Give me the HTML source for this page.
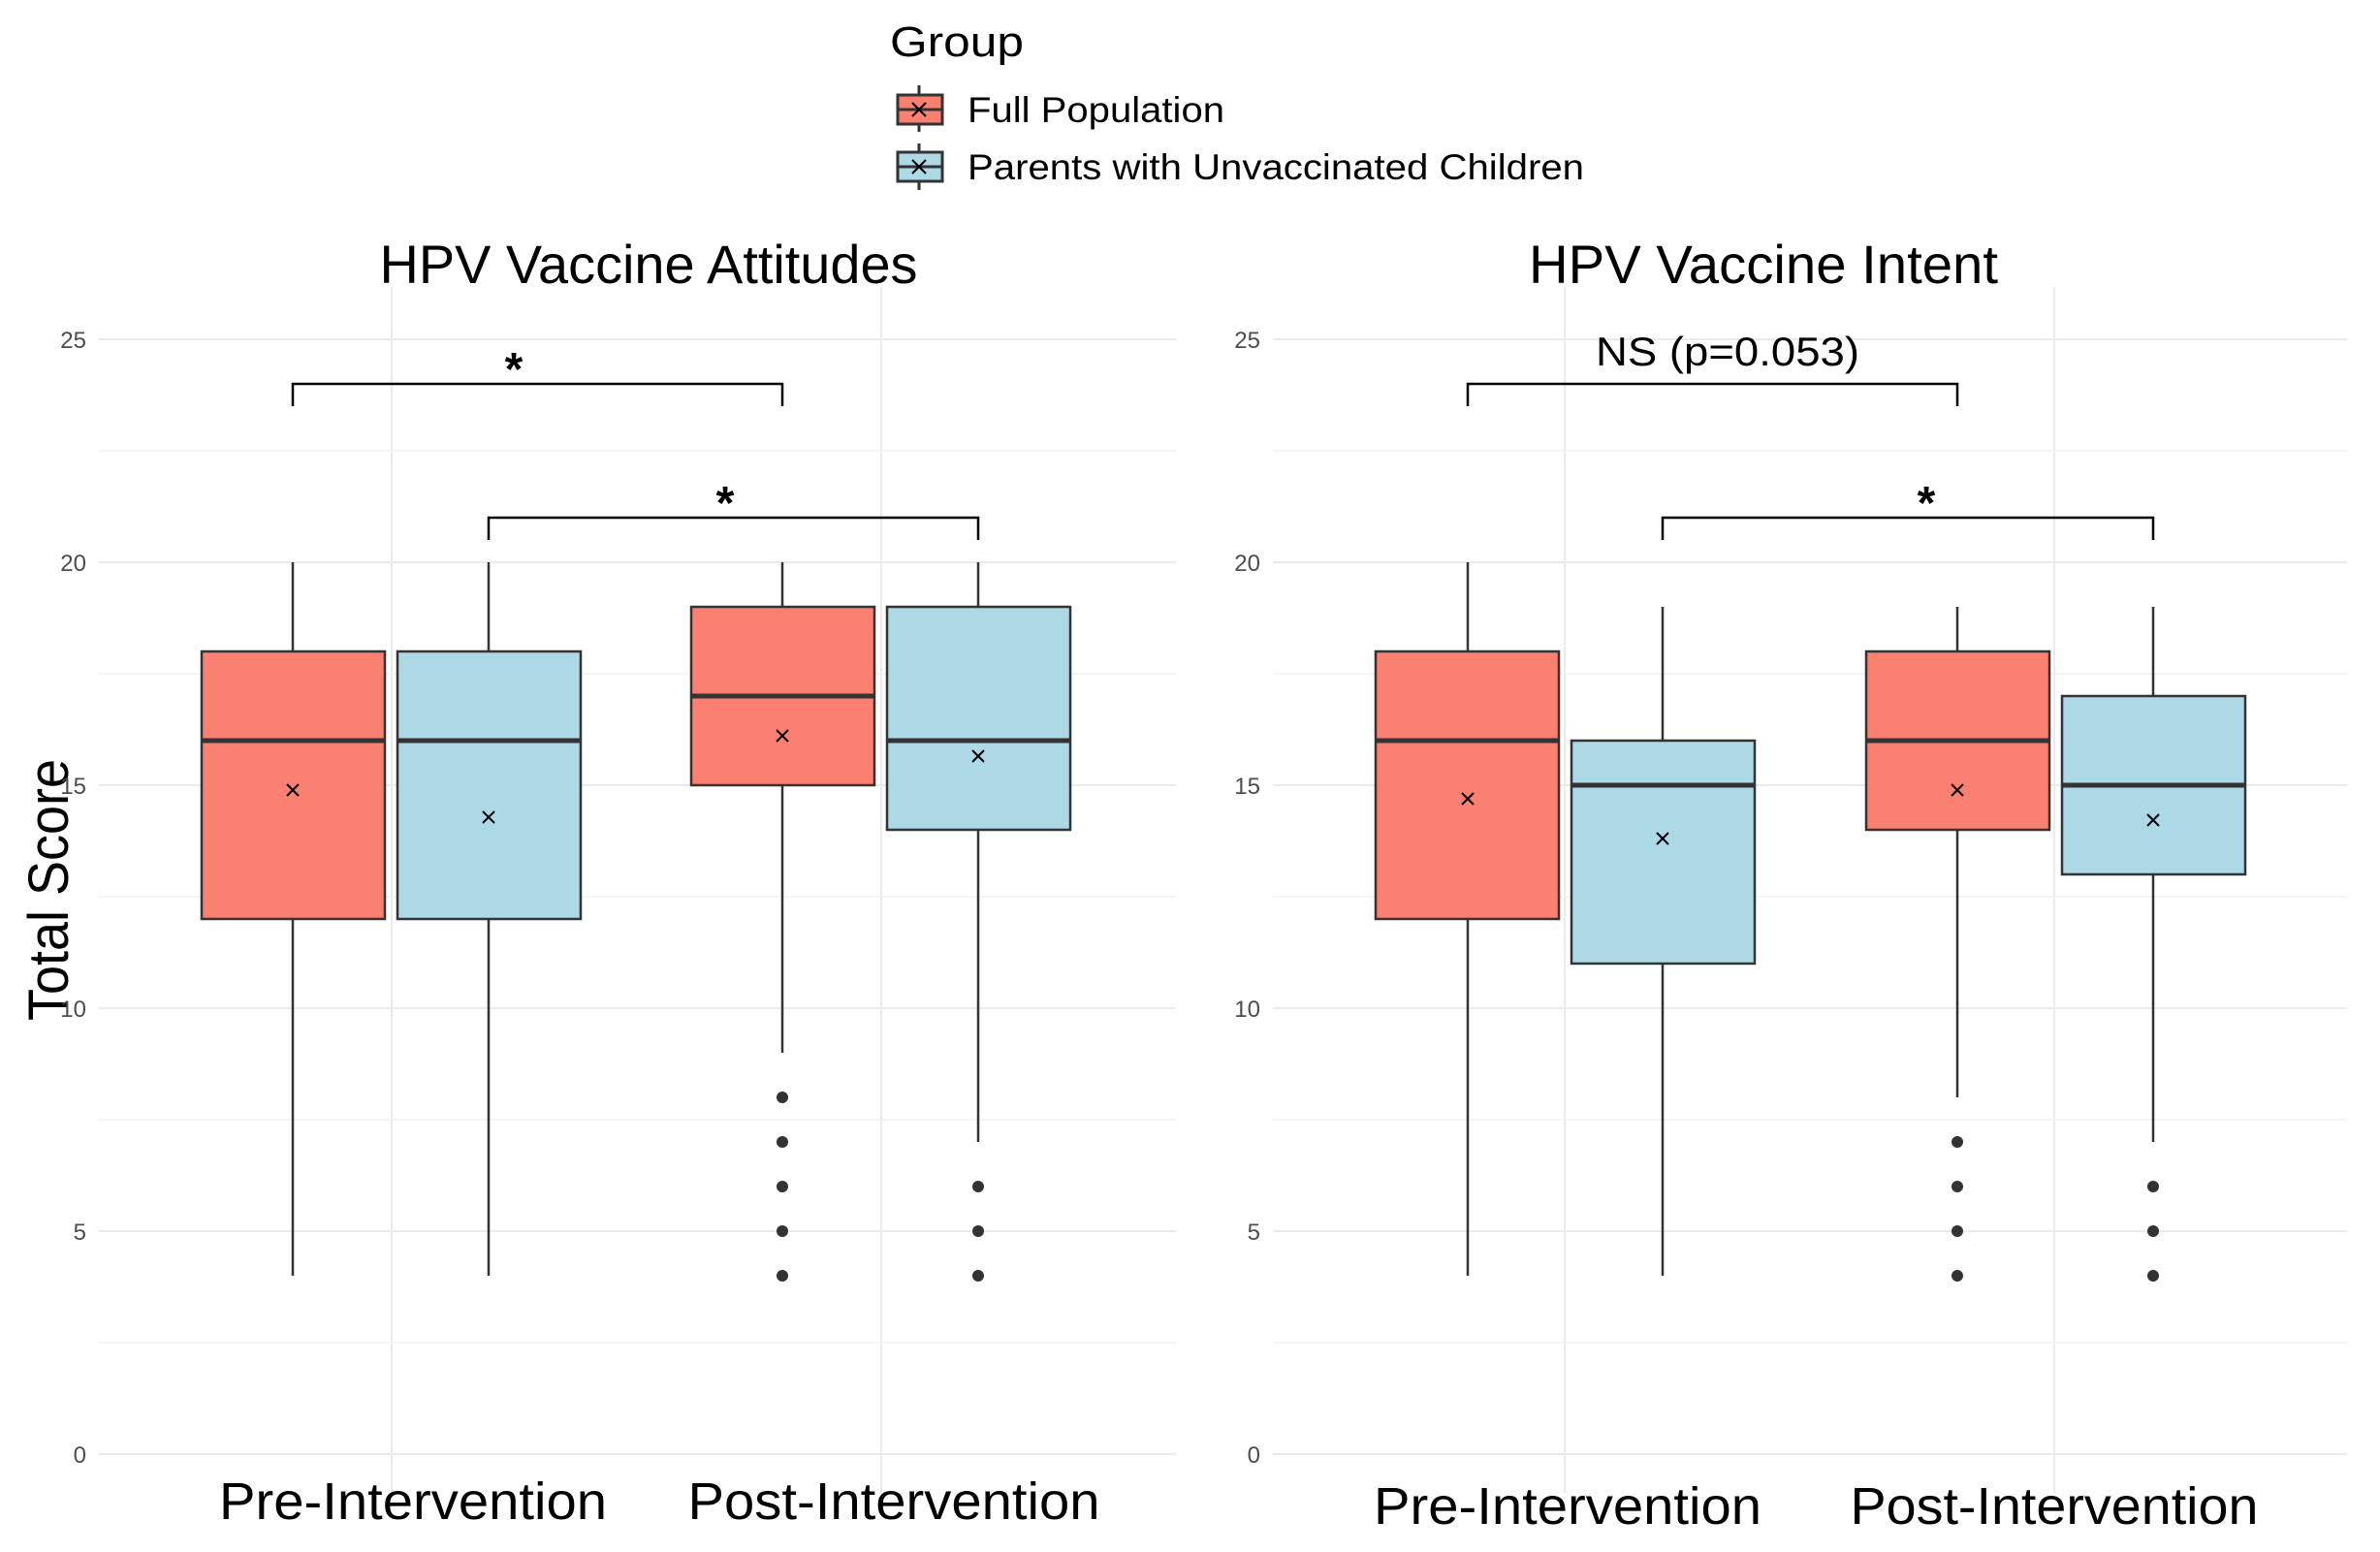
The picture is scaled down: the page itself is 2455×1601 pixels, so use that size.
<!DOCTYPE html>
<html><head><meta charset="utf-8"><style>
html,body{margin:0;padding:0;background:#fff;}
svg{display:block;}
text{font-family:"Liberation Sans",sans-serif;}
</style></head><body>
<svg width="2455" height="1601" viewBox="0 0 2455 1601" xmlns="http://www.w3.org/2000/svg">
<rect width="2455" height="1601" fill="#fff"/>
<!-- Legend -->
<text x="918" y="58" font-size="44" fill="#000" textLength="138" lengthAdjust="spacingAndGlyphs">Group</text>
<g stroke="#333" stroke-width="3">
<line x1="948" y1="88" x2="948" y2="136"/>
<rect x="926" y="98" width="46" height="30" fill="#FA8072"/>
<line x1="926" y1="113" x2="972" y2="113"/>
<line x1="941" y1="106" x2="955" y2="120" stroke="#000" stroke-width="2"/><line x1="955" y1="106" x2="941" y2="120" stroke="#000" stroke-width="2"/>
<line x1="948" y1="148" x2="948" y2="196"/>
<rect x="926" y="157" width="46" height="30" fill="#ADD8E6"/>
<line x1="926" y1="172" x2="972" y2="172"/>
<line x1="941" y1="165" x2="955" y2="179" stroke="#000" stroke-width="2"/><line x1="955" y1="165" x2="941" y2="179" stroke="#000" stroke-width="2"/>
</g>
<text x="998" y="126" font-size="37" fill="#000" textLength="265" lengthAdjust="spacingAndGlyphs">Full Population</text>
<text x="998" y="185" font-size="37" fill="#000" textLength="636" lengthAdjust="spacingAndGlyphs">Parents with Unvaccinated Children</text>

<!-- Titles -->
<text x="669" y="292" font-size="56" text-anchor="middle" textLength="555" lengthAdjust="spacingAndGlyphs">HPV Vaccine Attitudes</text>
<text x="1819" y="292" font-size="56" text-anchor="middle" textLength="484" lengthAdjust="spacingAndGlyphs">HPV Vaccine Intent</text>

<!-- Y label -->
<text transform="translate(70,918) rotate(-90)" font-size="58" text-anchor="middle" textLength="270" lengthAdjust="spacingAndGlyphs">Total Score</text>

<!-- Grids -->
<g stroke="#ebebeb" stroke-width="2">
<line x1="102" y1="1500" x2="1213" y2="1500"/><line x1="102" y1="1270" x2="1213" y2="1270"/><line x1="102" y1="1040" x2="1213" y2="1040"/><line x1="102" y1="810" x2="1213" y2="810"/><line x1="102" y1="580" x2="1213" y2="580"/><line x1="102" y1="350" x2="1213" y2="350"/>
<line x1="1313" y1="1500" x2="2421" y2="1500"/><line x1="1313" y1="1270" x2="2421" y2="1270"/><line x1="1313" y1="1040" x2="2421" y2="1040"/><line x1="1313" y1="810" x2="2421" y2="810"/><line x1="1313" y1="580" x2="2421" y2="580"/><line x1="1313" y1="350" x2="2421" y2="350"/>
<line x1="404" y1="296" x2="404" y2="1540"/><line x1="909" y1="296" x2="909" y2="1540"/>
<line x1="1614" y1="296" x2="1614" y2="1540"/><line x1="2119" y1="296" x2="2119" y2="1540"/>
</g>
<g stroke="#f2f2f2" stroke-width="1.5">
<line x1="102" y1="1385" x2="1213" y2="1385"/><line x1="102" y1="1155" x2="1213" y2="1155"/><line x1="102" y1="925" x2="1213" y2="925"/><line x1="102" y1="695" x2="1213" y2="695"/><line x1="102" y1="465" x2="1213" y2="465"/>
<line x1="1313" y1="1385" x2="2421" y2="1385"/><line x1="1313" y1="1155" x2="2421" y2="1155"/><line x1="1313" y1="925" x2="2421" y2="925"/><line x1="1313" y1="695" x2="2421" y2="695"/><line x1="1313" y1="465" x2="2421" y2="465"/>
</g>
<!-- tick labels -->
<g font-size="24" fill="#4d4d4d" text-anchor="end">
<text x="89" y="1509">0</text><text x="89" y="1279">5</text><text x="89" y="1049">10</text><text x="89" y="819">15</text><text x="89" y="589">20</text><text x="89" y="359">25</text>
<text x="1300" y="1509">0</text><text x="1300" y="1279">5</text><text x="1300" y="1049">10</text><text x="1300" y="819">15</text><text x="1300" y="589">20</text><text x="1300" y="359">25</text>
</g>
<!-- x labels -->
<g font-size="54" text-anchor="middle">
<text x="426" y="1567" textLength="400" lengthAdjust="spacingAndGlyphs">Pre-Intervention</text>
<text x="922" y="1567" textLength="425" lengthAdjust="spacingAndGlyphs">Post-Intervention</text>
<text x="1617" y="1572" textLength="400" lengthAdjust="spacingAndGlyphs">Pre-Intervention</text>
<text x="2119" y="1572" textLength="421" lengthAdjust="spacingAndGlyphs">Post-Intervention</text>
</g>

<g stroke="#333" stroke-width="2.5">
<line x1="302" y1="1316" x2="302" y2="580"/>
<rect x="208" y="672" width="189" height="276" fill="#FA8072"/>
<line x1="208" y1="764" x2="397" y2="764" stroke-width="5"/>
<line x1="504" y1="1316" x2="504" y2="580"/>
<rect x="410" y="672" width="189" height="276" fill="#ADD8E6"/>
<line x1="410" y1="764" x2="599" y2="764" stroke-width="5"/>
<line x1="807" y1="1086" x2="807" y2="580"/>
<rect x="713" y="626" width="189" height="184" fill="#FA8072"/>
<line x1="713" y1="718" x2="902" y2="718" stroke-width="5"/>
<line x1="1009" y1="1178" x2="1009" y2="580"/>
<rect x="915" y="626" width="189" height="230" fill="#ADD8E6"/>
<line x1="915" y1="764" x2="1104" y2="764" stroke-width="5"/>
<line x1="1514" y1="1316" x2="1514" y2="580"/>
<rect x="1419" y="672" width="189" height="276" fill="#FA8072"/>
<line x1="1419" y1="764" x2="1608" y2="764" stroke-width="5"/>
<line x1="1715" y1="1316" x2="1715" y2="626"/>
<rect x="1621" y="764" width="189" height="230" fill="#ADD8E6"/>
<line x1="1621" y1="810" x2="1810" y2="810" stroke-width="5"/>
<line x1="2019" y1="1132" x2="2019" y2="626"/>
<rect x="1925" y="672" width="189" height="184" fill="#FA8072"/>
<line x1="1925" y1="764" x2="2114" y2="764" stroke-width="5"/>
<line x1="2221" y1="1178" x2="2221" y2="626"/>
<rect x="2127" y="718" width="189" height="184" fill="#ADD8E6"/>
<line x1="2127" y1="810" x2="2316" y2="810" stroke-width="5"/>
</g>
<g fill="#333">
<circle cx="807" cy="1132" r="6"/><circle cx="807" cy="1178" r="6"/><circle cx="807" cy="1224" r="6"/><circle cx="807" cy="1270" r="6"/><circle cx="807" cy="1316" r="6"/>
<circle cx="1009" cy="1224" r="6"/><circle cx="1009" cy="1270" r="6"/><circle cx="1009" cy="1316" r="6"/>
<circle cx="2019" cy="1178" r="6"/><circle cx="2019" cy="1224" r="6"/><circle cx="2019" cy="1270" r="6"/><circle cx="2019" cy="1316" r="6"/>
<circle cx="2221" cy="1224" r="6"/><circle cx="2221" cy="1270" r="6"/><circle cx="2221" cy="1316" r="6"/>
</g>
<g stroke="#000" stroke-width="2">
<path d="M296 809 l12 12 M308 809 l-12 12"/>
<path d="M498 837 l12 12 M510 837 l-12 12"/>
<path d="M801 753 l12 12 M813 753 l-12 12"/>
<path d="M1003 774 l12 12 M1015 774 l-12 12"/>
<path d="M1508 818 l12 12 M1520 818 l-12 12"/>
<path d="M1709 859 l12 12 M1721 859 l-12 12"/>
<path d="M2013 809 l12 12 M2025 809 l-12 12"/>
<path d="M2215 840 l12 12 M2227 840 l-12 12"/>
</g>
<g stroke="#000" stroke-width="2.5" fill="none">
<path d="M302 419 V396 H807 V419"/>
<path d="M504 557 V534 H1009 V557"/>
<path d="M1514 419 V396 H2019 V419"/>
<path d="M1715 557 V534 H2221 V557"/>
</g>
<g font-size="48" text-anchor="middle" font-weight="bold">
<text x="530" y="397">*</text>
<text x="748" y="535">*</text>
<text x="1987" y="535">*</text>
</g>
<text x="1782" y="377" font-size="42" text-anchor="middle" textLength="272" lengthAdjust="spacingAndGlyphs">NS (p=0.053)</text>
</svg>
</body></html>
